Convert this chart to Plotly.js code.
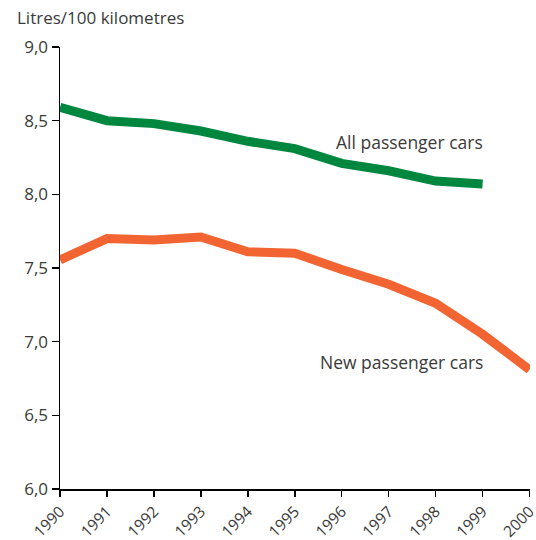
<!DOCTYPE html>
<html>
<head>
<meta charset="utf-8">
<script src="https://cdn.plot.ly/plotly-3.0.1.min.js"></script>
<style>html,body{margin:0;padding:0;background:#fff;}#chart{width:536px;height:540px;}</style>
</head>
<body>
<div id="chart"></div>
<script>
var years = [1990, 1991, 1992, 1993, 1994, 1995, 1996, 1997, 1998, 1999, 2000];
var allCars = [8.59, 8.50, 8.48, 8.43, 8.36, 8.31, 8.21, 8.16, 8.09, 8.07, null];
var newCars = [7.555, 7.70, 7.69, 7.71, 7.61, 7.60, 7.49, 7.39, 7.26, 7.05, 6.81];
var yTicks = [6.0, 6.5, 7.0, 7.5, 8.0, 8.5, 9.0];
var seriesNames = ["All passenger cars", "New passenger cars"];
var unitLabel = "Litres/100 kilometres";

var font = "Open Sans, Lato, sans-serif";
var txt = "#3a3a3a";
var traces = [
  {x: years, y: allCars, mode: "lines", name: seriesNames[0], cliponaxis: false,
   line: {color: "#00873f", width: 9}},
  {x: years, y: newCars, mode: "lines", name: seriesNames[1], cliponaxis: false,
   line: {color: "#f26533", width: 9}}
];
var layout = {
  width: 536, height: 540,
  margin: {l: 60, r: 6, t: 47, b: 51},
  paper_bgcolor: "#fff", plot_bgcolor: "#fff",
  showlegend: false,
  separators: ",.",
  font: {family: font, size: 17, color: txt},
  xaxis: {
    range: [1989.999, 2000.01], tickvals: years, ticktext: years.map(String),
    tickangle: -45, showgrid: false, zeroline: false, ticklabeloverflow: "allow",
    showline: true, linecolor: "#000", linewidth: 1.5,
    ticks: "outside", ticklen: 6, tickcolor: "#000", tickwidth: 1.5,
    tickfont: {family: font, size: 15.5, color: txt}
  },
  yaxis: {
    range: [6, 9], tickvals: yTicks, tickformat: ".1f",
    showgrid: false, zeroline: false,
    showline: true, linecolor: "#000", linewidth: 1.5,
    ticks: "outside", ticklen: 7, tickcolor: "#000", tickwidth: 1.5,
    tickfont: {family: font, size: 17, color: txt}
  },
  annotations: [
    {xref: "paper", yref: "paper", x: -0.095, y: 1.0, yshift: 30, xanchor: "left", yanchor: "middle",
     text: unitLabel, showarrow: false, font: {family: font, size: 17, color: txt}},
    {x: 1999.06, y: 8.355, xanchor: "right", yanchor: "middle", text: seriesNames[0],
     showarrow: false, font: {family: font, size: 17.5, color: txt}},
    {x: 1999.06, y: 6.86, xanchor: "right", yanchor: "middle", text: seriesNames[1],
     showarrow: false, font: {family: font, size: 17.5, color: txt}}
  ]
};
Plotly.newPlot("chart", traces, layout, {displayModeBar: false, staticPlot: true});
</script>
</body>
</html>
